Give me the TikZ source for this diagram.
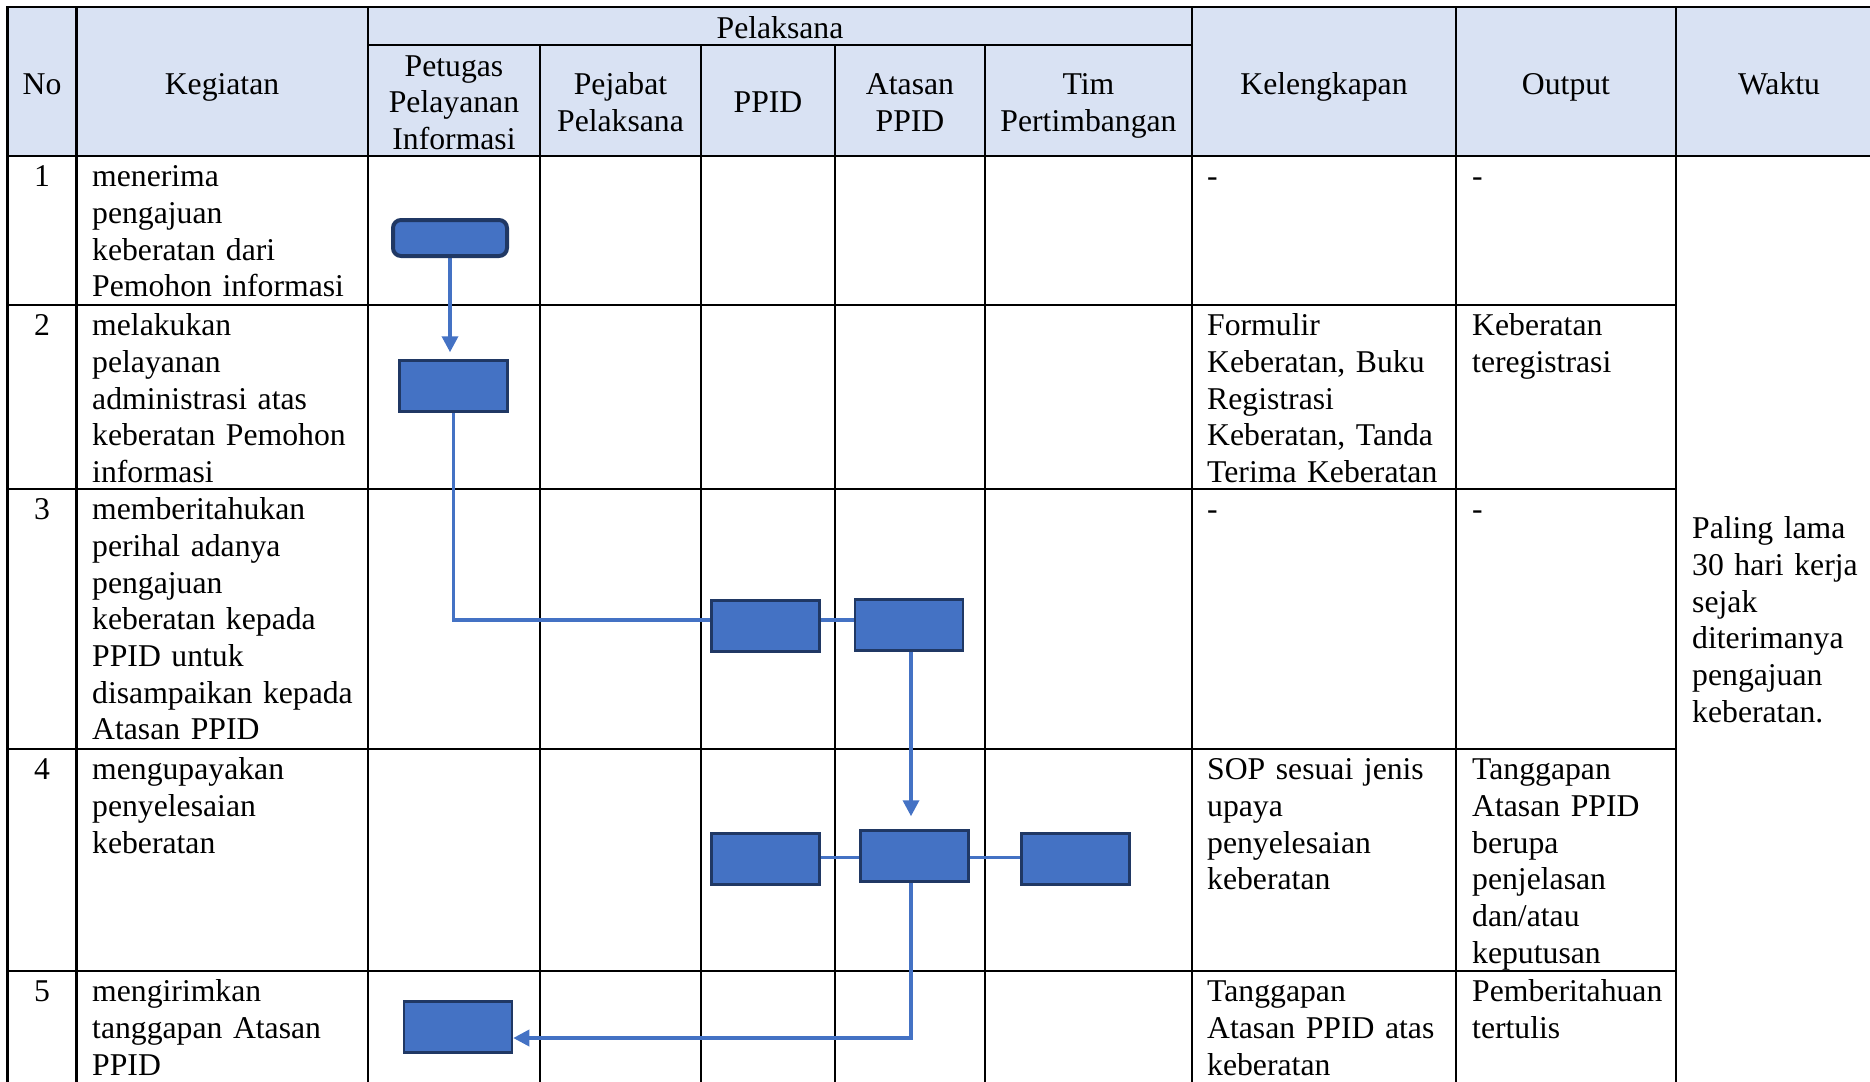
\documentclass[tikz,border=0pt]{standalone}
\usepackage{fontspec}
\setmainfont{Liberation Serif}
\usetikzlibrary{arrows.meta}
\definecolor{hdrfill}{HTML}{D9E2F3}
\definecolor{boxfill}{HTML}{4472C4}
\definecolor{boxline}{HTML}{203864}
\definecolor{flowline}{HTML}{4472C4}
% fixed first-line height so every cell starts at the same baseline
\newcommand{\fst}{\rule{0pt}{26pt}}
\pgfdeclarelayer{gridlayer}
\pgfdeclarelayer{connlayer}
\pgfsetlayers{gridlayer,connlayer,main}

\begin{document}
\begin{tikzpicture}[x=1pt,y=-1pt,
  grid/.style={line width=2.5pt, black, line cap=rect},
  cell/.style={anchor=north west, inner sep=0pt, text width=330pt, align=left,
    font=\fontsize{31.7}{36.7}\selectfont},
  hcell/.style={anchor=north, inner sep=0pt, text width=260pt, align=center,
    font=\fontsize{31.7}{36.7}\selectfont},
  num/.style={anchor=base, inner sep=0pt, font=\fontsize{31.7}{36.7}\selectfont},
  stepbox/.style={draw=boxline, fill=boxfill, line width=2.5pt,
    minimum width=108pt, minimum height=51pt, inner sep=0pt},
  startbox/.style={stepbox, line width=4pt, rounded corners=8pt,
    minimum width=114pt, minimum height=36pt},
  flow/.style={draw=flowline, line width=3.5pt},
  flowarrow/.style={flow, -{Triangle[width=16pt,length=16pt]}}
]
\useasboundingbox (0,0) rectangle (1870,1081);
\clip (0,0) rectangle (1870,1081);

% ---------- table grid ----------
\begin{pgfonlayer}{gridlayer}
  \fill[hdrfill] (7.5,7) rectangle (1890,156);
  \draw[grid] (7.5,7) -- (1890,7);
  \draw[grid] (368,45) -- (1192,45);
  \draw[grid] (7.5,156) -- (1890,156);
  \foreach \y in {305,489,749,971} \draw[grid] (7.5,\y) -- (1676,\y);
  \foreach \x in {7.5,76.5,368,1192,1456,1676} \draw[grid] (\x,7) -- (\x,1095);
  \foreach \x in {540,701,835,985} \draw[grid] (\x,45) -- (\x,1095);
\end{pgfonlayer}

% ---------- header ----------
\node[num] (hNo)  at (42,94)   {No};
\node[num] (hKeg) at (222,94)  {Kegiatan};
\node[num] (hPel) at (780,38)  {Pelaksana};
\node[hcell] (hPet)  at (454,49.8)    {\fst Petugas\\Pelayanan\\Informasi};
\node[hcell] (hPej)  at (620.5,68.1)  {\fst Pejabat\\Pelaksana};
\node[num]   (hPPID) at (768,112.5)   {PPID};
\node[hcell] (hAtas) at (910,68.1)    {\fst Atasan\\PPID};
\node[hcell] (hTim)  at (1088.5,68.1) {\fst Tim\\Pertimbangan};
\node[num] (hKel) at (1324,94) {Kelengkapan};
\node[num] (hOut) at (1566,94) {Output};
\node[num] (hWak) at (1779,94) {Waktu};

% ---------- body: numbers ----------
\node[num] (n1) at (42,186.5) {1};
\node[num] (n2) at (42,335.5) {2};
\node[num] (n3) at (42,519.5) {3};
\node[num] (n4) at (42,779.5) {4};
\node[num] (n5) at (42,1001.5) {5};

% ---------- body: activities ----------
\node[cell] (k1) at (92,160.5) {\fst menerima\\pengajuan\\keberatan dari\\Pemohon informasi};
\node[cell] (k2) at (92,309.5) {\fst melakukan\\pelayanan\\administrasi atas\\keberatan Pemohon\\informasi};
\node[cell] (k3) at (92,493.5) {\fst memberitahukan\\perihal adanya\\pengajuan\\keberatan kepada\\PPID untuk\\disampaikan kepada\\Atasan PPID};
\node[cell] (k4) at (92,753.5) {\fst mengupayakan\\penyelesaian\\keberatan};
\node[cell] (k5) at (92,975.5) {\fst mengirimkan\\tanggapan Atasan\\PPID};

% ---------- body: requirements ----------
\node[cell] (l1) at (1207,160.5) {\fst -};
\node[cell] (l2) at (1207,309.5) {\fst Formulir\\Keberatan, Buku\\Registrasi\\Keberatan, Tanda\\Terima Keberatan};
\node[cell] (l3) at (1207,493.5) {\fst -};
\node[cell] (l4) at (1207,753.5) {\fst SOP sesuai jenis\\upaya\\penyelesaian\\keberatan};
\node[cell] (l5) at (1207,975.5) {\fst Tanggapan\\Atasan PPID atas\\keberatan};

% ---------- body: output ----------
\node[cell] (o1) at (1472,160.5) {\fst -};
\node[cell] (o2) at (1472,309.5) {\fst Keberatan\\teregistrasi};
\node[cell] (o3) at (1472,493.5) {\fst -};
\node[cell] (o4) at (1472,753.5) {\fst Tanggapan\\Atasan PPID\\berupa\\penjelasan\\dan/atau\\keputusan};
\node[cell] (o5) at (1472,975.5) {\fst Pemberitahuan\\tertulis};

% ---------- time ----------
\node[cell] (waktu) at (1692,512.5) {\fst Paling lama\\30 hari kerja\\sejak\\diterimanya\\pengajuan\\keberatan.};

% ---------- flow boxes ----------
\node[startbox] (b1) at (450,238) {};
\node[stepbox] (b2) at (453.5,386) {};
\node[stepbox] (b3) at (765.5,626) {};
\node[stepbox] (b4) at (909,625) {};
\node[stepbox] (b5) at (765.5,859) {};
\node[stepbox] (b6) at (914.5,856) {};
\node[stepbox] (b7) at (1075.5,859) {};
\node[stepbox] (b8) at (458,1027) {};

% ---------- connectors ----------
\begin{pgfonlayer}{connlayer}
  \draw[flowarrow] (b1.south) -- ([yshift=7pt]b1.south |- b2.north);
  \draw[flow] (b2.south) |- ([yshift=6pt]b3.west);
  \draw[flow] ([yshift=6pt]b3.east) -- ([yshift=6pt]b3.east -| b4.west);
  \draw[flowarrow] ([xshift=2pt]b4.south) -- ([xshift=2pt,yshift=13pt]b4.south |- b6.north);
  \draw[flow] ([yshift=-1.5pt]b6.west -| b5.east) -- ([yshift=-1.5pt]b6.west);
  \draw[flow] ([yshift=-1.5pt]b6.east) -- ([yshift=-1.5pt]b6.east -| b7.west);
  \draw[flowarrow] ([xshift=-3.5pt]b6.south) |- ([yshift=-11pt]b8.east);
\end{pgfonlayer}
\end{tikzpicture}
\end{document}
